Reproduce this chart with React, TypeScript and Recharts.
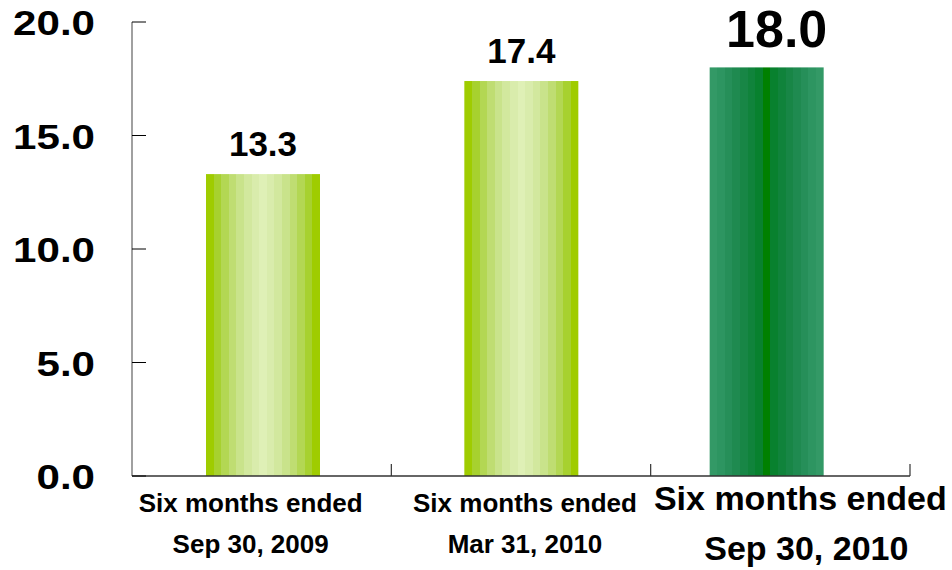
import { BarChart, Bar, XAxis, YAxis, LabelList } from 'recharts';

const periods = ['Six months ended|Sep 30, 2009', 'Six months ended|Mar 31, 2010', 'Six months ended|Sep 30, 2010'];
const values = [13.3, 17.4, 18.0];
const yTicks = [0, 5, 10, 15, 20];

const data = periods.map((period, i) => ({ period, value: values[i] }));

const W = 952;
const H = 570;
const PLOT_LEFT = 132;
const PLOT_RIGHT = 910;
const PLOT_TOP = 22;
const PLOT_BOTTOM = 476;
const BAND = (PLOT_RIGHT - PLOT_LEFT) / periods.length;
const FONT = '"Liberation Sans", Arial, sans-serif';

// banded fills: edge -> centre, mirrored
const LIME = ['#9fcc00', '#a7d12f', '#b3d753', '#bfdd72', '#c9e38b', '#d2e89e', '#d9ecac', '#dff0b6'];
const GREEN = ['#339966', '#2d9561', '#268f59', '#1f8a50', '#188646', '#10833b', '#08812e', '#008000'];

const bandStops = (colors: string[]) => {
  const seq = [...colors, ...colors.slice(0, -1).reverse()];
  const n = seq.length;
  const stops: JSX.Element[] = [];
  seq.forEach((c, i) => {
    stops.push(<stop key={`a${i}`} offset={`${(i / n) * 100}%`} stopColor={c} />);
    stops.push(<stop key={`b${i}`} offset={`${((i + 1) / n) * 100}%`} stopColor={c} />);
  });
  return stops;
};

// y labels are drawn a bit wider than the font
const YTick = ({ x, y, payload }: any) => (
  <g>
    <line x1={x} x2={x + 14} y1={y} y2={y} stroke="#000" strokeWidth={1} />
    <text
      transform={`translate(95, ${y + 13}) scale(1.17, 1)`}
      textAnchor="end"
      fontFamily={FONT}
      fontWeight="bold"
      fontSize={36}
      fill="#000"
    >
      {Number(payload.value).toFixed(1)}
    </text>
  </g>
);

const labelShift = [-11, 4, 20];
const barShift = [1, 0, -14];
const valueShift = [1, 0, -4];

const XTick = ({ x, y, payload, index }: any) => {
  const [l1, l2] = String(payload.value).split('|');
  const big = index === 2;
  const cx = x + labelShift[index];
  return (
    <g>
      <line x1={x + BAND / 2} x2={x + BAND / 2} y1={y} y2={y - 12} stroke="#333" strokeWidth={1.2} />
      <text x={cx} y={big ? 510 : 512} textAnchor="middle" fontFamily={FONT} fontWeight="bold" fontSize={big ? 34 : 26} fill="#000">
        {l1}
      </text>
      <text x={cx + (big ? 6 : 0)} y={big ? 560 : 553} textAnchor="middle" fontFamily={FONT} fontWeight="bold" fontSize={big ? 34 : 26} fill="#000">
        {l2}
      </text>
    </g>
  );
};

const ValueLabel = ({ x, y, width, value, index }: any) => {
  const big = index === 2;
  return (
    <text
      x={x + valueShift[index] + width / 2}
      y={y - (big ? 20 : 18)}
      textAnchor="middle"
      fontFamily={FONT}
      fontWeight="bold"
      fontSize={big ? 52 : 35}
      fill="#000"
    >
      {Number(value).toFixed(1)}
    </text>
  );
};

export default function App() {
  return (
    <div style={{ position: 'absolute', left: 0, top: 0, width: W, height: H, background: '#fff' }}>
      <BarChart
        width={W}
        height={H}
        data={data}
        margin={{ top: PLOT_TOP, right: W - PLOT_RIGHT, left: 0, bottom: 0 }}
        barCategoryGap="0%"
      >
        <defs>
          <linearGradient id="lime" x1="0" y1="0" x2="1" y2="0">
            {bandStops(LIME)}
          </linearGradient>
          <linearGradient id="green" x1="0" y1="0" x2="1" y2="0">
            {bandStops(GREEN)}
          </linearGradient>
        </defs>
        <YAxis
          domain={[0, 20]}
          ticks={yTicks}
          width={PLOT_LEFT}
          tickSize={0}
          tickMargin={0}
          tickLine={false}
          axisLine={{ stroke: '#808080', strokeWidth: 1.5 }}
          tick={<YTick />}
          interval={0}
        />
        <XAxis
          dataKey="period"
          height={H - PLOT_BOTTOM}
          tickSize={0}
          tickMargin={0}
          tickLine={false}
          axisLine={{ stroke: '#333', strokeWidth: 1.5 }}
          tick={<XTick />}
          interval={0}
        />
        <Bar dataKey="value" barSize={114} isAnimationActive={false} shape={(p: any) => (
          <rect
            x={p.x + barShift[p.index]}
            y={p.y}
            width={p.width}
            height={p.height}
            fill={p.index === 2 ? 'url(#green)' : 'url(#lime)'}
          />
        )}>
          <LabelList dataKey="value" content={<ValueLabel />} />
        </Bar>
      </BarChart>
    </div>
  );
}
